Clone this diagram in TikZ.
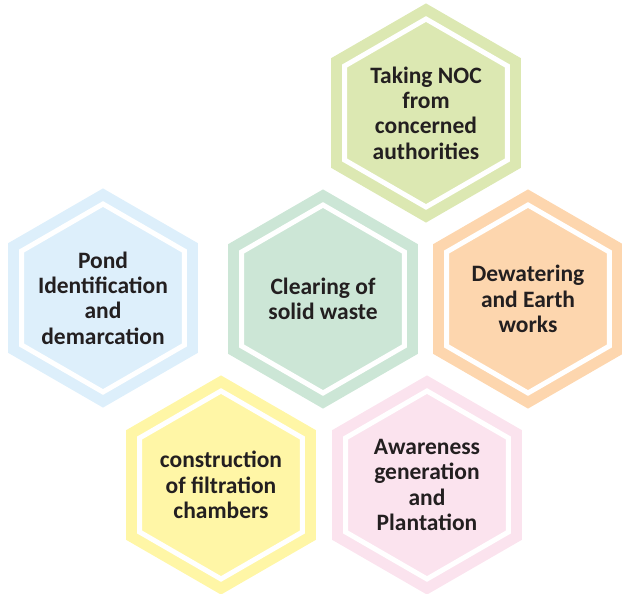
\documentclass[tikz,border=0pt]{standalone}
\usepackage{fontspec}
\setmainfont{Carlito}
\usetikzlibrary{shapes.geometric}
\definecolor{HexGreen}{HTML}{DCE8B2}
\definecolor{HexMint}{HTML}{CCE6D6}
\definecolor{HexOrange}{HTML}{FDD6AE}
\definecolor{HexBlue}{HTML}{DDEFFB}
\definecolor{HexYellow}{HTML}{FFF6A6}
\definecolor{HexPink}{HTML}{FBE3EE}
\definecolor{HexText}{HTML}{231F20}

\begin{document}
\begin{tikzpicture}[
    x=1pt,y=-1pt,
    % negative inner sep keeps the long lines from widening the hexagon
    hexa/.style={regular polygon,regular polygon sides=6,shape border rotate=30,
      minimum size=188pt,inner sep=-20pt,outer sep=0pt,
      line width=11pt,line join=miter,double=white,double distance=5pt,
      draw=#1,fill=#1,align=center,text=HexText,
      font=\fontsize{23.5}{25.3}\selectfont\bfseries}
  ]
    \useasboundingbox (0,0) rectangle (622,594);
    \node[hexa=HexGreen] (noc) at (426,113) {Taking NOC\\from\\concerned\\authorities};
    \node[hexa=HexBlue] (pond) at (103,298) {Pond\\Identification\\and\\demarcation};
    \node[hexa=HexMint] (waste) at (323,299) {Clearing of\\solid waste};
    \node[hexa=HexOrange] (dewater) at (528,299) {Dewatering\\and Earth\\works};
    \node[hexa=HexYellow] (filter) at (221,485) {construction\\of filtration\\chambers};
    \node[hexa=HexPink] (aware) at (427,485) {Awareness\\generation\\and\\Plantation};
  \end{tikzpicture}
\end{document}
